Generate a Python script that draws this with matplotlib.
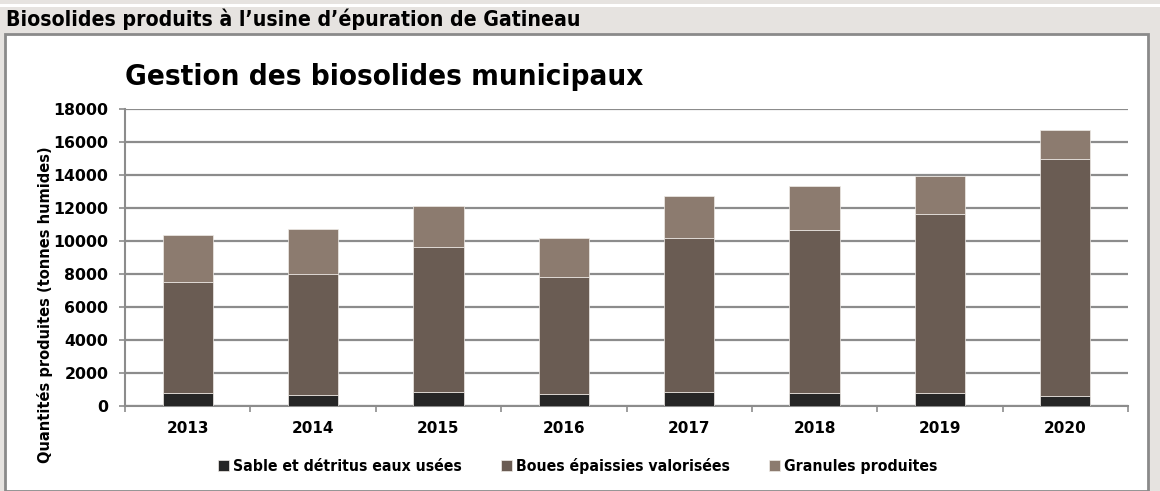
import matplotlib.pyplot as plt
from matplotlib.patches import Rectangle
import numpy as np

# donnees (tonnes humides)
annees = ['2013', '2014', '2015', '2016', '2017', '2018', '2019', '2020']
sable = [790, 670, 850, 730, 850, 790, 790, 630]
boues = [6700, 7310, 8770, 7110, 9310, 9880, 10870, 14340]
granules = [2870, 2730, 2485, 2360, 2585, 2690, 2260, 1740]

noms = ['Sable et détritus eaux usées', 'Boues épaissies valorisées', 'Granules produites']
couleurs = ['#262626', '#6a5c53', '#8c7b6f']

narrow = ['DejaVu Sans']
gris_fond = '#e6e3e0'
gris_trait = '#8c8c8c'

fig = plt.figure(figsize=(11.6, 4.91), dpi=100)
fig.patch.set_facecolor(gris_fond)

# bande blanche en haut + cadre blanc
fig.patches.append(Rectangle((0, 1 - 7/491), 1, 3/491, transform=fig.transFigure,
                             facecolor='white', edgecolor='none', zorder=-2))
fig.patches.append(Rectangle((5/1160, 0), (1148 - 5)/1160, (491 - 34)/491,
                             transform=fig.transFigure, facecolor='white',
                             edgecolor='#8a8a8a', linewidth=2, zorder=-2))

fig.text(6/1160, 1 - 19/491, "Biosolides produits à l’usine d’épuration de Gatineau",
         family=narrow, stretch='condensed', fontweight='bold', fontsize=15.2, va='center', ha='left')

ax = fig.add_axes([125/1160, 85/491, (1128 - 125)/1160, (406 - 109)/491])
ax.set_facecolor('white')

x = np.arange(len(annees))
base2 = np.array(sable)
base3 = base2 + np.array(boues)
ax.bar(x, sable, width=0.4, color=couleurs[0], edgecolor='#f0ece8', linewidth=0.5, label=noms[0], zorder=3)
ax.bar(x, boues, width=0.4, bottom=base2, color=couleurs[1], edgecolor='#f0ece8', linewidth=0.5, label=noms[1], zorder=3)
ax.bar(x, granules, width=0.4, bottom=base3, color=couleurs[2], edgecolor='#f0ece8', linewidth=0.5, label=noms[2], zorder=3)

ax.set_xlim(-0.5, len(annees) - 0.5)
ax.set_ylim(0, 18000)
ax.set_yticks(range(0, 18001, 2000))
ax.yaxis.grid(True, color=gris_trait, linewidth=1.6)
ax.set_axisbelow(True)

ax.set_xticks(np.arange(-0.5, len(annees), 1.0))
ax.set_xticklabels([])
ax.set_xticks(x, minor=True)
ax.set_xticklabels(annees, minor=True, fontweight='bold', fontsize=11)
ax.tick_params(axis='x', which='minor', length=0, pad=11)
ax.tick_params(axis='x', which='major', length=4, color=gris_trait, width=1.2)
ax.tick_params(axis='y', length=4, color=gris_trait, width=1.2, labelsize=11.3, pad=8)
for t in ax.get_yticklabels():
    t.set_fontweight('bold')

for s in ['top', 'right']:
    ax.spines[s].set_visible(False)
for s in ['left', 'bottom']:
    ax.spines[s].set_color(gris_trait)
    ax.spines[s].set_linewidth(1.5)

fig.text(125/1160, 1 - 77/491, 'Gestion des biosolides municipaux',
         family=narrow, stretch='condensed', fontweight='bold', fontsize=21.2, va='center', ha='left')

fig.text(45/1160, 1 - 305/491, 'Quantités produites (tonnes humides)',
         family=narrow, stretch='condensed', fontweight='bold', fontsize=11.7, rotation=90,
         va='center', ha='center')

leg = fig.legend(loc='center', bbox_to_anchor=(578/1160, 1 - 466/491), ncol=3,
                 frameon=False, prop={'family': narrow, 'stretch': 'condensed', 'weight': 'bold', 'size': 11.3},
                 handlelength=0.7, handleheight=0.7, handletextpad=0.25, columnspacing=2.5)

fig.savefig('out.png', dpi=100, facecolor=fig.get_facecolor())
